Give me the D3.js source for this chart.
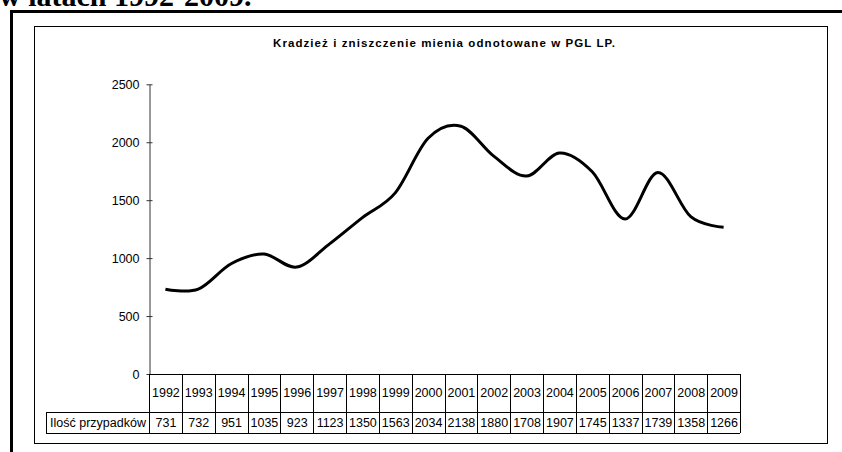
<!DOCTYPE html>
<meta charset="utf-8">
<style>
body { margin: 0; background: #fff; }
text { font-family: "Liberation Sans", Arial, sans-serif; }
</style>
<svg width="842" height="452"></svg>
<script src="https://d3js.org/d3.v7.min.js"></script>
<script>

var years = ["1992", "1993", "1994", "1995", "1996", "1997", "1998", "1999", "2000",
             "2001", "2002", "2003", "2004", "2005", "2006", "2007", "2008", "2009"];
var cases = [731, 732, 951, 1035, 923, 1123, 1350, 1563, 2034,
             2138, 1880, 1708, 1907, 1745, 1337, 1739, 1358, 1266];
var yTicks = [0, 500, 1000, 1500, 2000, 2500];
var rowLabel = "Ilość przypadków";
var chartTitle = "Kradzież i zniszczenie mienia odnotowane w PGL LP.";
var pageHeading = "w latach 1992-2009.";

var svg = d3.select("svg");

// page heading, cut off by the top of the picture (as in the scan)
svg.append("text")
    .attr("x", -1)
    .attr("y", 6)
    .style("font-family", "'Liberation Serif', 'Times New Roman', serif")
    .attr("font-weight", "bold")
    .attr("font-size", 30)
    .text(pageHeading);

// thick frame of the document box
svg.append("path")
    .attr("d", "M11.5,460V11.5H850")
    .attr("fill", "none")
    .attr("stroke", "#000")
    .attr("stroke-width", 3);

// chart area frame
svg.append("rect")
    .attr("x", 34.5).attr("y", 26.5)
    .attr("width", 793).attr("height", 417)
    .attr("fill", "#fff")
    .attr("stroke", "#000");

svg.append("text")
    .attr("x", 444)
    .attr("y", 47)
    .attr("text-anchor", "middle")
    .attr("font-weight", "bold")
    .attr("font-size", 11.5)
    .attr("textLength", 342)
    .attr("lengthAdjust", "spacing")
    .text(chartTitle);

var x = d3.scaleBand()
    .domain(years)
    .range([149, 740]);

var y = d3.scaleLinear()
    .domain([0, 2500])
    .range([374, 84.3]);

// y axis, ticks cross the line
var yAxis = svg.append("g")
    .attr("transform", "translate(149.5,0)")
    .call(d3.axisLeft(y).tickValues(yTicks).tickFormat(d3.format("d"))
        .tickSizeInner(3).tickSizeOuter(0).tickPadding(7));
yAxis.select(".domain").attr("stroke", "#333");
yAxis.selectAll(".tick line").attr("stroke", "#333").attr("x2", 3).attr("x1", -3);
yAxis.selectAll(".tick text").attr("font-size", 12.5).attr("fill", "#000")
    .style("font-family", "'Liberation Sans', Arial, sans-serif");

// smoothed line (Excel style)
var line = d3.line()
    .x(function(d, i) { return x(years[i]) + x.bandwidth() / 2; })
    .y(function(d) { return y(d); })
    .curve(d3.curveCardinal.tension(0));

svg.append("path")
    .datum(cases)
    .attr("d", line)
    .attr("fill", "none")
    .attr("stroke", "#000")
    .attr("stroke-width", 3)
    .attr("stroke-linejoin", "round");

// data table under the chart
var rowTop = 374, rowMid = 412, rowBot = 433, labelLeft = 46;
var table = svg.append("g")
    .attr("stroke", "#000")
    .attr("shape-rendering", "crispEdges");

table.append("line")
    .attr("x1", 149).attr("x2", 740).attr("y1", rowTop + 0.5).attr("y2", rowTop + 0.5);
table.append("line")
    .attr("x1", labelLeft).attr("x2", 740).attr("y1", rowMid + 0.5).attr("y2", rowMid + 0.5);
table.append("line")
    .attr("x1", labelLeft).attr("x2", 740).attr("y1", rowBot + 0.5).attr("y2", rowBot + 0.5);
table.append("line")
    .attr("x1", labelLeft + 0.5).attr("x2", labelLeft + 0.5).attr("y1", rowMid).attr("y2", rowBot);

table.selectAll(".sep")
    .data(years.concat(["end"]))
    .enter().append("line")
      .attr("class", "sep")
      .attr("x1", function(d) { return Math.round(d === "end" ? x.range()[1] : x(d)) + 0.5; })
      .attr("x2", function(d) { return Math.round(d === "end" ? x.range()[1] : x(d)) + 0.5; })
      .attr("y1", rowTop)
      .attr("y2", rowBot);

svg.append("g")
    .attr("font-size", 12.5)
    .attr("text-anchor", "middle")
  .selectAll("text")
  .data(years)
  .enter().append("text")
    .attr("x", function(d) { return x(d) + x.bandwidth() / 2 + 0.5; })
    .attr("y", 396.5)
    .text(function(d) { return d; });

svg.append("g")
    .attr("font-size", 12.5)
    .attr("text-anchor", "middle")
  .selectAll("text")
  .data(cases)
  .enter().append("text")
    .attr("x", function(d, i) { return x(years[i]) + x.bandwidth() / 2 + 0.5; })
    .attr("y", 427)
    .text(function(d) { return d; });

svg.append("text")
    .attr("x", (labelLeft + 149) / 2 + 0.5)
    .attr("y", 427)
    .attr("font-size", 12.5)
    .attr("text-anchor", "middle")
    .text(rowLabel);

</script>
